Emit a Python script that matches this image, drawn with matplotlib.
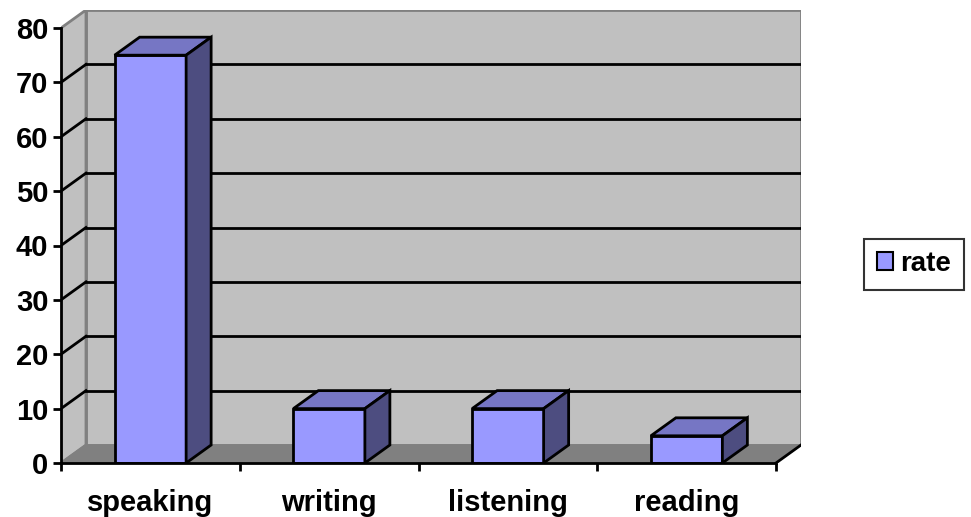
import matplotlib
matplotlib.use("Agg")
import matplotlib.pyplot as plt
from matplotlib.patches import Polygon, Rectangle, Patch

categories = ["speaking", "writing", "listening", "reading"]
rate = [75, 10, 10, 5]
yticks = [0, 10, 20, 30, 40, 50, 60, 70, 80]
series_name = "rate"

plt.rcParams['font.family'] = ['Liberation Sans', 'DejaVu Sans']

W, H = 971, 517
fig = plt.figure(figsize=(W / 100, H / 100), dpi=100)

# pixel layout of plot area
x0p, x1p = 61, 776
y0p, y80p = 463, 28
dxp, dyp = 25, 18
n = len(categories)
ymax = 80
ppx = (x1p - x0p) / n
ppy = (y0p - y80p) / ymax
dx = dxp / ppx
dy = dyp / ppy

left = x0p / W
bottom = (H - y0p) / H
width = (x1p + dxp - x0p) / W
height = (y0p - (y80p - dyp)) / H
ax = fig.add_axes([left, bottom, width, height])
ax.set_xlim(0, n + dx)
ax.set_ylim(0, ymax + dy)

for s in ['top', 'right']:
    ax.spines[s].set_visible(False)
ax.spines['left'].set_bounds(0, ymax)
ax.spines['bottom'].set_bounds(0, n)
ax.spines['left'].set_linewidth(2)
ax.spines['bottom'].set_linewidth(2)
ax.spines['left'].set_zorder(10)
ax.spines['bottom'].set_zorder(10)
ax.patch.set_visible(False)

wall = '#C0C0C0'
floor = '#808080'
edgegray = '#808080'

# back wall
ax.add_patch(Rectangle((dx, dy), n, ymax, facecolor=wall, edgecolor=edgegray, lw=2, zorder=1))
# left wall
ax.add_patch(Polygon([(0, 0), (dx, dy), (dx, ymax + dy), (0, ymax)], closed=True,
                     facecolor=wall, edgecolor=edgegray, lw=2, zorder=1))
# floor
ax.add_patch(Polygon([(0, 0), (n, 0), (n + dx, dy), (dx, dy)], closed=True,
                     facecolor=floor, edgecolor=floor, lw=1, zorder=2))
ax.plot([n, n + dx], [0, dy], color='black', lw=2, zorder=3)

# gridlines
for v in yticks[1:-1]:
    ax.plot([dx, n + dx], [v + dy, v + dy], color='black', lw=2, zorder=2)
    ax.plot([0, dx], [v, v + dy], color='black', lw=2, zorder=2)
ax.plot([0, dx], [0, dy], color=edgegray, lw=1.5, zorder=2)

# bars
bw = 0.4
front = '#9999FF'
topc = '#7676C4'
sidec = '#4D4D80'
xs = [i + 0.5 for i in range(n)]
ax.bar(xs, rate, width=bw, color=front, edgecolor='black', linewidth=2, zorder=5)
for x, v in zip(xs, rate):
    a, b = x - bw / 2, x + bw / 2
    ax.add_patch(Polygon([(a, v), (b, v), (b + dx, v + dy), (a + dx, v + dy)], closed=True,
                         facecolor=topc, edgecolor='black', lw=2, zorder=5))
    ax.add_patch(Polygon([(b, 0), (b + dx, dy), (b + dx, v + dy), (b, v)], closed=True,
                         facecolor=sidec, edgecolor='black', lw=2, zorder=5))

ax.set_yticks(yticks)
ax.set_yticklabels([str(t) for t in yticks], fontsize=21, fontweight='bold')
ax.tick_params(axis='y', length=6, width=2, pad=3)
ax.set_xticks(range(n + 1))
ax.set_xticklabels([''] * (n + 1))
ax.tick_params(axis='x', which='major', length=6, width=2)
ax.set_xticks(xs, minor=True)
ax.set_xticklabels(categories, minor=True, fontsize=21, fontweight='bold')
ax.tick_params(axis='x', which='minor', length=0, pad=19)

leg = fig.legend(handles=[Patch(facecolor=front, edgecolor='black', lw=1.5, label=series_name)],
                 loc='center', bbox_to_anchor=(914 / W, 1 - 264 / H),
                 prop={'size': 20, 'weight': 'bold'}, fancybox=False,
                 handlelength=0.6, handleheight=0.6, handletextpad=0.25,
                 borderpad=0.45, borderaxespad=0)
leg.get_frame().set_edgecolor('black')
leg.get_frame().set_linewidth(1.5)

fig.savefig('out.png', dpi=100)
